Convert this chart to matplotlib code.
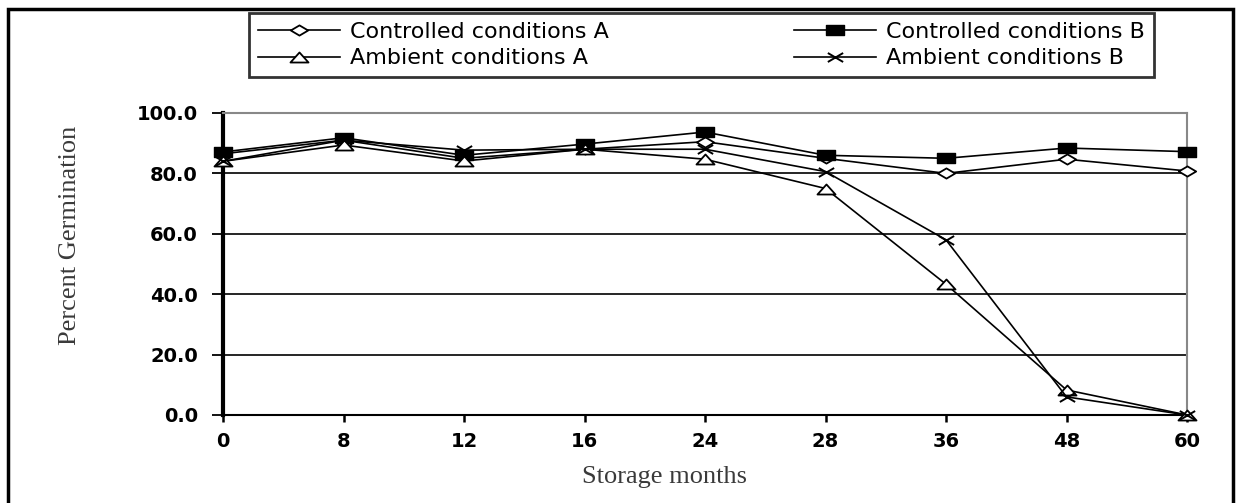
import matplotlib
matplotlib.use("Agg")
import matplotlib.pyplot as plt
from matplotlib.patches import Rectangle
from matplotlib.path import Path

# storage months (categorical x axis)
months = ["0", "8", "12", "16", "24", "28", "36", "48", "60"]

controlled_a = [86.5, 91.0, 85.0, 88.0, 90.5, 85.0, 80.0, 84.7, 80.8]
controlled_b = [87.1, 91.8, 86.0, 89.7, 93.7, 86.0, 85.0, 88.4, 87.2]
ambient_a = [84.0, 89.4, 84.1, 88.0, 84.7, 75.0, 43.3, 8.3, 0.0]
ambient_b = [84.0, 91.0, 87.7, 88.0, 88.0, 80.6, 58.0, 6.0, 0.0]

# the original markers look squashed (wider than tall)
wide_diamond = Path([(-1.7, 0), (0, 1), (1.7, 0), (0, -1), (-1.7, 0)],
                    [Path.MOVETO, Path.LINETO, Path.LINETO, Path.LINETO, Path.CLOSEPOLY])
wide_square = Path([(-1.9, -1), (1.9, -1), (1.9, 1), (-1.9, 1), (-1.9, -1)],
                   [Path.MOVETO, Path.LINETO, Path.LINETO, Path.LINETO, Path.CLOSEPOLY])
wide_tri = Path([(-1.8, -1), (1.8, -1), (0, 1), (-1.8, -1)],
                [Path.MOVETO, Path.LINETO, Path.LINETO, Path.CLOSEPOLY])
wide_x = Path([(-1.7, -1), (1.7, 1), (-1.7, 1), (1.7, -1)],
              [Path.MOVETO, Path.LINETO, Path.MOVETO, Path.LINETO])

W, H = 1238, 503
fig = plt.figure(figsize=(W / 100, H / 100), dpi=100)
ax = fig.add_axes([223 / W, 1 - 415 / H, (1187 - 223) / W, (415 - 113) / H])

x = list(range(len(months)))
common = dict(color="black", linewidth=1.2, clip_on=False, zorder=3)
l_ca, = ax.plot(x, controlled_a, marker=wide_diamond, markersize=12.5, markerfacecolor="white",
                markeredgecolor="black", markeredgewidth=1.3, label="Controlled conditions A", **common)
l_cb, = ax.plot(x, controlled_b, marker=wide_square, markersize=12.5, markerfacecolor="black",
                markeredgecolor="black", label="Controlled conditions B", **common)
l_aa, = ax.plot(x, ambient_a, marker=wide_tri, markersize=13, markerfacecolor="white",
                markeredgecolor="black", markeredgewidth=1.3, label="Ambient conditions A", **common)
l_ab, = ax.plot(x, ambient_b, marker=wide_x, markersize=11, markerfacecolor="none",
                markeredgewidth=1.4, markeredgecolor="black", label="Ambient conditions B", **common)

ax.set_xlim(0, len(months) - 1)
ax.set_ylim(0, 100)
ax.set_xticks(x)
ax.set_xticklabels(months)
ax.set_yticks([0, 20, 40, 60, 80, 100])
ax.set_yticklabels([f"{v:.1f}" for v in [0, 20, 40, 60, 80, 100]])
for lbl in ax.get_xticklabels() + ax.get_yticklabels():
    lbl.set_fontfamily("DejaVu Sans")
    lbl.set_fontweight("heavy")
    lbl.set_fontsize(14)
ax.tick_params(axis="y", length=8, width=1.3, direction="out", pad=10)
ax.tick_params(axis="x", length=5, width=1.8, direction="out", pad=7)

ax.yaxis.grid(True, color="black", linewidth=1.2)
ax.set_axisbelow(True)
ax.spines["left"].set_linewidth(3)
ax.spines["bottom"].set_linewidth(1.5)
ax.spines["top"].set_color("#888888")
ax.spines["right"].set_color("#888888")
ax.spines["top"].set_linewidth(1.5)
ax.spines["right"].set_linewidth(1.5)

fig.text(70 / W, 1 - 235 / H, "Percent Germination", rotation=90, ha="center", va="center",
         fontfamily="Liberation Serif", fontsize=19, color="#3a3a3a")
fig.text(664 / W, 1 - 477 / H, "Storage months", ha="center", va="center",
         fontfamily="Liberation Serif", fontsize=19, color="#3a3a3a")

leg = fig.legend(handles=[l_ca, l_aa, l_cb, l_ab], loc="center",
                 bbox_to_anchor=(249 / W, 1 - 77 / H, 905 / W, 64 / H), mode="expand",
                 borderaxespad=0, ncol=2, frameon=True, fancybox=False,
                 handlelength=3.7, handletextpad=0.45, borderpad=0.4, labelspacing=0.3,
                 prop={"family": "DejaVu Sans", "size": 16})
leg.get_frame().set_edgecolor("black")
leg.get_frame().set_linewidth(2)

# outer frame around the whole figure
fig.patches.append(Rectangle((8 / W, -0.05), (1233 - 8) / W, 1 - 9 / H + 0.05,
                             transform=fig.transFigure, fill=False,
                             edgecolor="black", linewidth=2.5))

fig.savefig("out.png", dpi=100)
